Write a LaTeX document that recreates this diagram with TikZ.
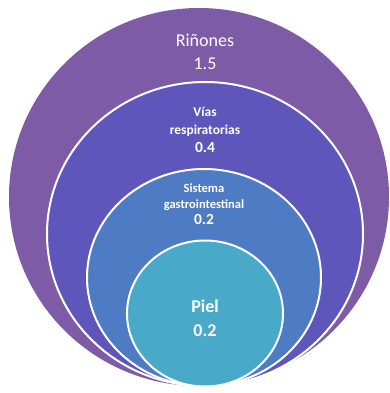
\documentclass[tikz,border=0pt]{standalone}
\usepackage{fontspec}
\setmainfont{Carlito}
\usepackage{tikz}
\definecolor{rinonesc}{RGB}{126,91,166}
\definecolor{viasc}{RGB}{94,86,186}
\definecolor{sistemac}{RGB}{78,124,196}
\definecolor{pielc}{RGB}{72,170,200}
\tikzset{
  ring/.style={draw=white, line width=2pt},
  lbl/.style={text=white, align=center, inner sep=0pt}
}
\newcommand{\numsize}{\fontsize{15.5}{19}\selectfont}
\begin{document}
\begin{tikzpicture}[x=1pt,y=-1pt]
\useasboundingbox[fill=white] (0,0) rectangle (390,393);
\fill[rinonesc] (199,197) ellipse [x radius=190, y radius=189];
%
\fill[viasc, ring] (205,234) ellipse [x radius=158, y radius=152];
\fill[sistemac, ring] (204,277.5) ellipse [x radius=117, y radius=108.5];
\fill[pielc, ring] (205,313.5) ellipse [x radius=78, y radius=73];
%
\node[lbl, font=\fontsize{18}{23}\selectfont] (rinones) at (205,52) {Riñones\\1.5};
\node[lbl, font=\fontsize{13.5}{18}\selectfont\bfseries] (vias) at (205,129.5) {Vías\\respiratorias\\{\numsize 0.4}};
\node[lbl, font=\fontsize{12.5}{16}\selectfont\bfseries] (sistema) at (204,204.5) {Sistema\\gastrointestinal\\{\numsize 0.2}};
\node[lbl, font=\fontsize{18}{24}\selectfont\bfseries] (piel) at (205,318) {Piel\\0.2};
\end{tikzpicture}
\end{document}
